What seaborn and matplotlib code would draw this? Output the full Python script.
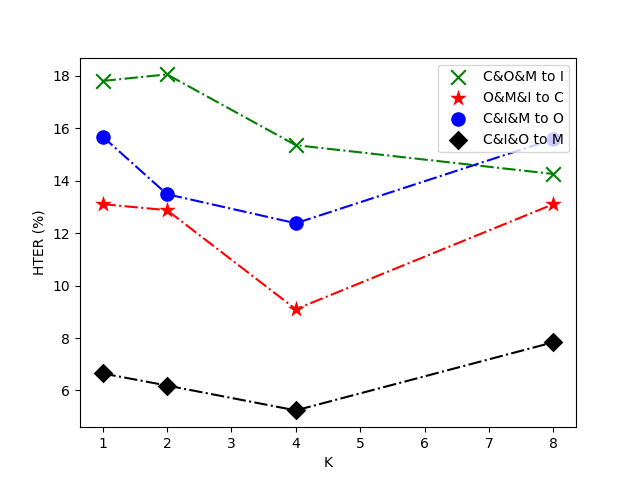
import matplotlib
matplotlib.use("Agg")
import matplotlib.pyplot as plt
import seaborn as sns
import pandas as pd

K = [1, 2, 4, 8]
com_to_i = [17.81, 18.06, 15.36, 14.26]
omi_to_c = [13.11, 12.88, 9.10, 13.11]
cim_to_o = [15.69, 13.49, 12.38, 15.59]
cio_to_m = [6.65, 6.19, 5.24, 7.84]

series = [
    ("C&O&M to I", com_to_i, "green", "x", 110),
    ("O&M&I to C", omi_to_c, "red", "*", 160),
    ("C&I&M to O", cim_to_o, "blue", "o", 110),
    ("C&I&O to M", cio_to_m, "black", "D", 100),
]

fig, ax = plt.subplots(figsize=(6.4, 4.8), dpi=100)
for label, vals, color, marker, size in series:
    df = pd.DataFrame({"K": K, "HTER": vals})
    sns.lineplot(data=df, x="K", y="HTER", color=color, linestyle="-.", ax=ax, legend=False)
    sns.scatterplot(data=df, x="K", y="HTER", color=color, marker=marker, s=size,
                    label=label, ax=ax, linewidth=1.5 if marker == "x" else 0, zorder=3)

ax.set_xlabel("K")
ax.set_ylabel("HTER (%)")
ax.legend(loc="upper right")
fig.savefig("out.png", dpi=100)
